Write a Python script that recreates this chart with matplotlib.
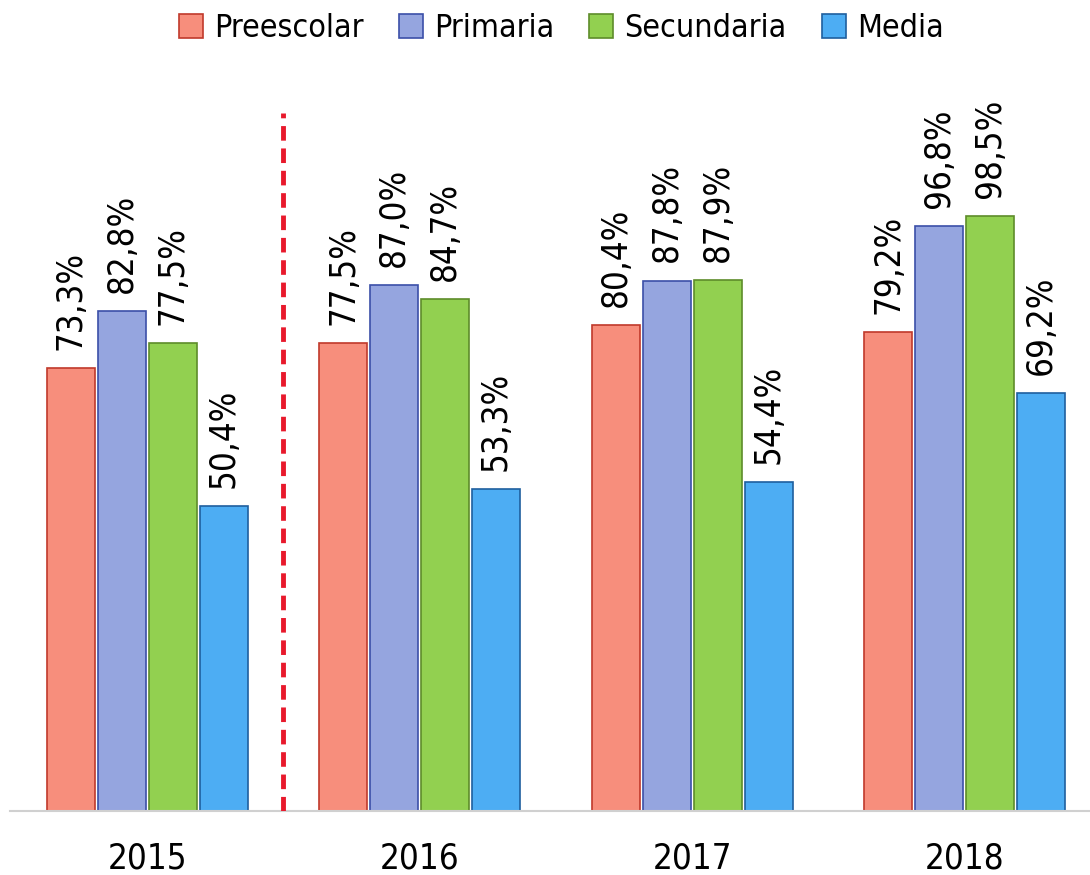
import numpy as np
import matplotlib.pyplot as plt
from matplotlib import font_manager

# data
years = ['2015', '2016', '2017', '2018']
series = ['Preescolar', 'Primaria', 'Secundaria', 'Media']
preescolar = [73.3, 77.5, 80.4, 79.2]
primaria = [82.8, 87.0, 87.8, 96.8]
secundaria = [77.5, 84.7, 87.9, 98.5]
media = [50.4, 53.3, 54.4, 69.2]

faces = ['#F78E7C', '#95A5DF', '#92D050', '#4DADF3']
edges = ['#C0392B', '#3B4FA8', '#5E8C2A', '#1F5F9E']

names = [f.name for f in font_manager.fontManager.ttflist]
fam = 'Liberation Sans Narrow' if 'Liberation Sans Narrow' in names else 'DejaVu Sans'
plt.rcParams['font.family'] = [fam, 'DejaVu Sans']
plt.rcParams['font.stretch'] = 'condensed'

fig = plt.figure(figsize=(10.9, 8.75), dpi=100)
ax = fig.add_axes([10 / 1090, 64 / 875, 1080 / 1090, 751 / 875])

x = np.arange(len(years))
w = 0.176
step = 0.187
for i, (name, vals) in enumerate(zip(series, [preescolar, primaria, secundaria, media])):
    pos = x + (i - 1.5) * step
    ax.bar(pos, vals, w, color=faces[i], edgecolor=edges[i], linewidth=1.2, label=name, zorder=2)
    for p, v in zip(pos, vals):
        ax.text(p, v + 3, f'{v:.1f}%'.replace('.', ','), rotation=90, ha='center', va='bottom',
                fontsize=25)

ax.plot([0.5, 0.5], [0, 115.5], color='#E8192C', linestyle=(0, (3, 1.6)), linewidth=3.5, zorder=3)

ax.set_xlim(-0.503, 3.46)
ax.set_ylim(0, 124.3)
ax.set_xticks(x)
ax.set_xticklabels(years, fontsize=25)
ax.tick_params(axis='x', length=0, pad=22)
ax.set_yticks([])
for s in ['top', 'right', 'left']:
    ax.spines[s].set_visible(False)
ax.spines['bottom'].set_color('#D0D0D0')
ax.spines['bottom'].set_linewidth(1.5)

fig.legend(loc='upper center', bbox_to_anchor=(0.515, 1.018), ncol=4, frameon=False, fontsize=23,
           handlelength=0.75, handleheight=0.75, handletextpad=0.35, columnspacing=1.1)

fig.savefig('out.png', dpi=100)
